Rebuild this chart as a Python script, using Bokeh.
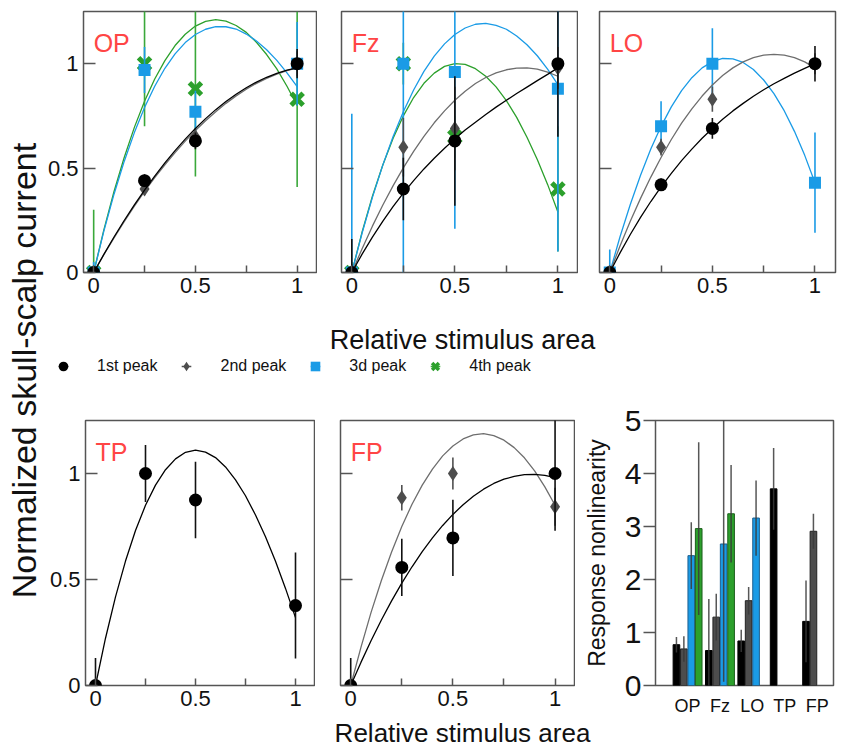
import numpy as np
from bokeh.plotting import figure
from bokeh.layouts import row, column
from bokeh.models import FixedTicker, Label, Legend, LegendItem, Range1d
from bokeh.embed import file_html
from bokeh.resources import INLINE

FONT = "Liberation Sans"

# ---------------- data ----------------
x_pts = [0.0, 0.25, 0.5, 1.0]
x_fit = [0.0, 0.05, 0.1, 0.15, 0.2, 0.25, 0.3, 0.35, 0.4, 0.45, 0.5,
         0.55, 0.6, 0.65, 0.7, 0.75, 0.8, 0.85, 0.9, 0.95, 1.0]

peak_labels = ["1st peak", "2nd peak", "3d peak", "4th peak"]
panel_names = ["OP", "Fz", "LO", "TP", "FP"]

# OP
op_1 = [0.0, 0.44, 0.63, 1.00]
op_1_err = [0.02, 0.03, 0.04, 0.07]
op_2 = [0.0, 0.40, 0.65, 1.00]
op_2_err = [0.02, 0.03, 0.04, 0.06]
op_3 = [0.0, 0.97, 0.77, 1.00]
op_3_err = [0.05, 0.11, 0.10, 0.20]
op_4 = [0.0, 1.00, 0.88, 0.83]
op_4_err = [0.30, 0.30, 0.42, 0.42]
op_1_fit = [0, 0.087, 0.170, 0.249, 0.324, 0.395, 0.462, 0.525, 0.584, 0.639, 0.690,
            0.737, 0.780, 0.819, 0.854, 0.885, 0.912, 0.935, 0.954, 0.969, 0.980]
op_2_fit = [0, 0.085, 0.166, 0.244, 0.318, 0.388, 0.454, 0.516, 0.574, 0.629, 0.680,
            0.727, 0.770, 0.810, 0.846, 0.878, 0.906, 0.930, 0.950, 0.967, 0.980]
op_3_fit = [0, 0.198, 0.375, 0.532, 0.670, 0.790, 0.892, 0.978, 1.047, 1.101, 1.140,
            1.165, 1.177, 1.177, 1.166, 1.142, 1.109, 1.067, 1.016, 0.956, 0.890]
op_4_fit = [0, 0.204, 0.388, 0.551, 0.695, 0.820, 0.927, 1.015, 1.087, 1.141, 1.180,
            1.203, 1.211, 1.204, 1.183, 1.150, 1.102, 1.044, 0.975, 0.892, 0.800]

# Fz
fz_1 = [0.0, 0.40, 0.63, 1.00]
fz_1_err = [0.16, 0.15, 0.31, 0.35]
fz_2 = [0.0, 0.60, 0.69, 0.98]
fz_2_err = [0.04, 0.14, 0.20, 0.10]
fz_3 = [0.0, 1.00, 0.96, 0.88]
fz_3_err = [0.76, 1.00, 0.75, 0.78]
fz_4 = [0.0, 1.00, 0.65, 0.40]
fz_4_err = [0.05, 0.10, 0.10, 0.30]
fz_1_fit = [0, 0.088, 0.169, 0.245, 0.315, 0.380, 0.440, 0.496, 0.547, 0.595, 0.640,
            0.682, 0.720, 0.757, 0.792, 0.825, 0.857, 0.888, 0.919, 0.949, 0.980]
fz_2_fit = [0, 0.114, 0.222, 0.322, 0.415, 0.501, 0.580, 0.652, 0.717, 0.774, 0.825,
            0.868, 0.905, 0.934, 0.956, 0.971, 0.979, 0.980, 0.974, 0.960, 0.940]
fz_3_fit = [0, 0.189, 0.360, 0.513, 0.650, 0.770, 0.874, 0.963, 1.036, 1.095, 1.140,
            1.171, 1.189, 1.193, 1.184, 1.165, 1.133, 1.091, 1.038, 0.974, 0.900]
fz_4_fit = [0, 0.194, 0.365, 0.514, 0.642, 0.750, 0.838, 0.906, 0.955, 0.987, 1.000,
            0.997, 0.976, 0.940, 0.889, 0.823, 0.743, 0.648, 0.541, 0.422, 0.290]

# LO
lo_1 = [0.0, 0.42, 0.69, 1.00]
lo_1_err = [0.02, 0.03, 0.05, 0.085]
lo_2 = [0.0, 0.60, 0.83, 1.00]
lo_2_err = [0.02, 0.04, 0.06, 0.05]
lo_3 = [0.0, 0.70, 1.00, 0.43]
lo_3_err = [0.11, 0.12, 0.17, 0.24]
lo_1_fit = [0, 0.094, 0.182, 0.264, 0.340, 0.410, 0.475, 0.536, 0.591, 0.643, 0.690,
            0.734, 0.774, 0.810, 0.844, 0.875, 0.904, 0.930, 0.955, 0.978, 1.000]
lo_2_fit = [0, 0.127, 0.245, 0.355, 0.457, 0.551, 0.637, 0.715, 0.784, 0.845, 0.898,
            0.943, 0.980, 1.009, 1.029, 1.041, 1.045, 1.041, 1.029, 1.009, 0.980]
lo_3_fit = [0, 0.171, 0.326, 0.466, 0.591, 0.700, 0.793, 0.871, 0.933, 0.980, 1.010,
            1.025, 1.023, 1.006, 0.972, 0.922, 0.857, 0.775, 0.676, 0.561, 0.430]

# TP
tp_1 = [0.0, 1.00, 0.875, 0.377]
tp_1_err = [0.13, 0.135, 0.18, 0.25]
tp_1_fit = [0, 0.223, 0.418, 0.587, 0.731, 0.850, 0.945, 1.018, 1.069, 1.100, 1.110,
            1.101, 1.075, 1.031, 0.970, 0.895, 0.804, 0.702, 0.586, 0.458, 0.320]

# FP
fp_1 = [0.0, 0.557, 0.696, 1.00]
fp_1_err = [0.13, 0.135, 0.18, 0.27]
fp_2 = [0.0, 0.886, 1.00, 0.843]
fp_2_err = [0.02, 0.06, 0.075, 0.09]
fp_1_fit = [0, 0.109, 0.212, 0.309, 0.399, 0.483, 0.560, 0.632, 0.696, 0.755, 0.807,
            0.853, 0.893, 0.926, 0.953, 0.973, 0.986, 0.995, 0.996, 0.991, 0.980]
fp_2_fit = [0, 0.180, 0.346, 0.495, 0.630, 0.750, 0.855, 0.945, 1.021, 1.083, 1.130,
            1.163, 1.182, 1.188, 1.179, 1.157, 1.122, 1.074, 1.012, 0.937, 0.850]

# Response nonlinearity (bars), per region in panel_names order
nl_1 = [0.77, 0.66, 0.84, 3.71, 1.21]
nl_1_err = [0.145, 0.97, 0.21, 0.77, 0.77]
nl_2 = [0.69, 1.29, 1.60, np.nan, 2.91]
nl_2_err = [0.24, 0.44, 0.26, np.nan, 0.33]
nl_3 = [2.45, 2.67, 3.16, np.nan, np.nan]
nl_3_err = [0.63, 2.60, 0.71, np.nan, np.nan]
nl_4 = [2.96, 3.24, np.nan, np.nan, np.nan]
nl_4_err = [1.63, 0.92, np.nan, np.nan, np.nan]

# ---------------- styles ----------------
STYLE = {
    1: dict(marker="circle", size=13, fill="#000000", curve="#000000", err="#111111"),
    2: dict(marker="diamond", size=15, fill="#4d4d4d", curve="#6e6e6e", err="#505050"),
    3: dict(marker="square", size=12, fill="#1a9be6", curve="#1a9be6", err="#1a9be6"),
    4: dict(marker="x", size=17, fill="#2ca02c", curve="#2ca02c", err="#3aa83a"),
}
BAR_LINE = {1: "#000000", 2: "#222222", 3: "#1d5f8f", 4: "#1b5e1b"}
RED = "#ff4545"
FRAME = "#555555"
TXT = "#111111"


def style_axes_line(p, ylabels):
    p.grid.visible = False
    p.outline_line_color = FRAME
    p.outline_line_width = 1.5
    xa = p.xaxis[0]
    xa.ticker = FixedTicker(ticks=[0, 0.5, 1], minor_ticks=[0.25, 0.75])
    xa.axis_line_color = None
    xa.major_tick_in = 7
    xa.major_tick_out = 0
    xa.minor_tick_in = 7
    xa.minor_tick_out = 0
    xa.major_tick_line_color = FRAME
    xa.minor_tick_line_color = FRAME
    xa.major_tick_line_width = 1.5
    xa.minor_tick_line_width = 1.5
    xa.major_label_text_font = FONT
    xa.major_label_text_font_size = "22px"
    xa.major_label_standoff = 5
    xa.major_label_text_color = TXT
    ya = p.yaxis[0]
    ya.ticker = FixedTicker(ticks=[0, 0.5, 1])
    ya.axis_line_color = None
    ya.major_tick_in = 12
    ya.major_tick_out = 0
    ya.minor_tick_line_color = None
    ya.major_tick_line_color = FRAME
    ya.major_tick_line_width = 1.5
    ya.major_label_text_font = FONT
    ya.major_label_text_font_size = "22px"
    ya.major_label_standoff = 5
    ya.major_label_text_color = TXT
    if not ylabels:
        ya.major_label_overrides = {0: "", 0.5: "", 1: ""}


def line_panel(name, data, fw, fh, bl, br, bt, bb, ylabels=True):
    p = figure(frame_width=fw, frame_height=fh,
               min_border_left=bl, min_border_right=br,
               min_border_top=bt, min_border_bottom=bb,
               x_range=Range1d(-0.05, 1.10), y_range=Range1d(0, 1.25),
               output_backend="svg", toolbar_location=None)
    for k in (4, 3, 2, 1):
        if k not in data:
            continue
        ys, errs, fit = data[k]
        st = STYLE[k]
        p.line(x_fit, fit, line_color=st["curve"], line_width=1.3)
        lo = [y - e for y, e in zip(ys, errs)]
        hi = [y + e for y, e in zip(ys, errs)]
        p.segment(x0=x_pts, y0=lo, x1=x_pts, y1=hi,
                  line_color=st["err"], line_width=1.6)
        if st["marker"] == "x":
            p.scatter(x_pts, ys, marker="x", size=st["size"],
                      line_color=st["fill"], line_width=5)
        else:
            p.scatter(x_pts, ys, marker=st["marker"], size=st["size"],
                      fill_color=st["fill"], line_color=None)
    style_axes_line(p, ylabels)
    p.add_layout(Label(x=0, y=1.10, text=name, text_color=RED,
                       text_font=FONT, text_font_size="25px",
                       text_align="left", text_baseline="alphabetic"))
    return p


# ---------------- layout numbers (px) ----------------
LEFT_W = 44
TOTAL_W = 807
TOP_FH = 261
BOT_FH = 265
TOTAL_H = 748

p_op = line_panel(panel_names[0], {1: (op_1, op_1_err, op_1_fit), 2: (op_2, op_2_err, op_2_fit),
                                   3: (op_3, op_3_err, op_3_fit), 4: (op_4, op_4_err, op_4_fit)},
                  234, TOP_FH, 37, 0, 11, 34, ylabels=True)
p_fz = line_panel(panel_names[1], {1: (fz_1, fz_1_err, fz_1_fit), 2: (fz_2, fz_2_err, fz_2_fit),
                                   3: (fz_3, fz_3_err, fz_3_fit), 4: (fz_4, fz_4_err, fz_4_fit)},
                  237, TOP_FH, 24, 0, 11, 34, ylabels=False)
p_lo = line_panel(panel_names[2], {1: (lo_1, lo_1_err, lo_1_fit), 2: (lo_2, lo_2_err, lo_2_fit),
                                   3: (lo_3, lo_3_err, lo_3_fit)},
                  236, TOP_FH, 21, 18, 11, 34, ylabels=False)

p_tp = line_panel(panel_names[3], {1: (tp_1, tp_1_err, tp_1_fit)},
                  230, BOT_FH, 41, 0, 18, 34, ylabels=True)
p_fp = line_panel(panel_names[4], {1: (fp_1, fp_1_err, fp_1_fit), 2: (fp_2, fp_2_err, fp_2_fit)},
                  235, BOT_FH, 25, 0, 18, 34, ylabels=False)

# ---------------- bar panel ----------------
pb = figure(frame_width=178, frame_height=BOT_FH,
            min_border_left=80, min_border_right=18, min_border_top=18, min_border_bottom=34,
            x_range=Range1d(-0.99, 4.505), y_range=Range1d(0, 5),
            output_backend="svg", toolbar_location=None)
pb.grid.visible = False
pb.outline_line_color = FRAME
pb.outline_line_width = 1.5
slot = 0.229
bar_sets = [(1, nl_1, nl_1_err), (2, nl_2, nl_2_err), (3, nl_3, nl_3_err), (4, nl_4, nl_4_err)]
for k, vals, errs in bar_sets:
    v = np.array(vals, dtype=float)
    xs = np.arange(len(panel_names)) + (k - 2.5) * slot
    m = ~np.isnan(v)
    pb.vbar(x=xs[m], top=v[m], bottom=0, width=0.205,
            fill_color=STYLE[k]["fill"], line_color=BAR_LINE[k], line_width=1)
for k, vals, errs in bar_sets:
    v = np.array(vals, dtype=float)
    e = np.array(errs, dtype=float)
    xs = np.arange(len(panel_names)) + (k - 2.5) * slot
    m = ~np.isnan(v)
    pb.segment(x0=xs[m], y0=(v - e)[m], x1=xs[m], y1=(v + e)[m],
               line_color="#3a3a3a", line_width=1.5, line_alpha=0.85)
xb = pb.xaxis[0]
xb.ticker = FixedTicker(ticks=list(range(len(panel_names))))
xb.major_label_overrides = {i: n for i, n in enumerate(panel_names)}
xb.axis_line_color = None
xb.major_tick_line_color = None
xb.minor_tick_line_color = None
xb.major_label_text_font = FONT
xb.major_label_text_font_size = "18px"
xb.major_label_standoff = 4
xb.major_label_text_color = TXT
yb = pb.yaxis[0]
yb.ticker = FixedTicker(ticks=[0, 1, 2, 3, 4, 5])
yb.axis_line_color = None
yb.major_tick_out = 12
yb.major_tick_in = 0
yb.major_tick_line_color = FRAME
yb.major_tick_line_width = 1.5
yb.minor_tick_line_color = None
yb.major_label_text_font = FONT
yb.major_label_text_font_size = "30px"
yb.major_label_standoff = 2
yb.major_label_text_color = TXT
yb.axis_label = "Response nonlinearity"
yb.axis_label_text_font = FONT
yb.axis_label_text_font_size = "23px"
yb.axis_label_text_font_style = "normal"
yb.axis_label_standoff = 12
yb.axis_label_text_color = TXT

# ---------------- middle strip: x label + legend ----------------
MID_H = 96
pm = figure(frame_width=TOTAL_W, frame_height=MID_H, min_border=0,
            x_range=Range1d(0, TOTAL_W), y_range=Range1d(0, MID_H),
            x_axis_type=None, y_axis_type=None,
            output_backend="svg", toolbar_location=None)
pm.outline_line_color = None
pm.add_layout(Label(x=418, y=63, text="Relative stimulus area", text_font=FONT,
                    text_font_size="27px", text_align="center",
                    text_baseline="alphabetic", text_color=TXT))
items = []
for k in (1, 2, 3, 4):
    st = STYLE[k]
    r_err = pm.scatter([np.nan], [np.nan], marker="dash", angle=np.pi / 2, size=10,
                       line_color=st["err"], line_width=1.5)
    if st["marker"] == "x":
        r_m = pm.scatter([np.nan], [np.nan], marker="x", size=10,
                         line_color=st["fill"], line_width=3.5)
    else:
        r_m = pm.scatter([np.nan], [np.nan], marker=st["marker"], size=10,
                         fill_color=st["fill"], line_color=None)
    items.append(LegendItem(label=peak_labels[k - 1], renderers=[r_err, r_m]))
leg = Legend(items=items, orientation="horizontal", location=(7, 24),
             padding=0, margin=0, spacing=17, glyph_width=24, glyph_height=24,
             label_height=24, label_standoff=22,
             label_text_font=FONT, label_text_font_size="16px",
             label_text_color=TXT,
             border_line_color=None, background_fill_alpha=0)
pm.add_layout(leg)

# ---------------- bottom strip: x label ----------------
BL_H = TOTAL_H - (11 + TOP_FH + 34) - MID_H - (18 + BOT_FH + 34)
pbl = figure(frame_width=TOTAL_W, frame_height=BL_H, min_border=0,
             x_range=Range1d(0, TOTAL_W), y_range=Range1d(0, BL_H),
             x_axis_type=None, y_axis_type=None,
             output_backend="svg", toolbar_location=None)
pbl.outline_line_color = None
pbl.add_layout(Label(x=418, y=0.5, text="Relative stimulus area", text_font=FONT,
                     text_font_size="26px", text_align="center",
                     text_baseline="bottom", text_color=TXT))

# ---------------- left strip: y label ----------------
pl = figure(frame_width=LEFT_W, frame_height=TOTAL_H, min_border=0,
            x_range=Range1d(0, LEFT_W), y_range=Range1d(0, TOTAL_H),
            x_axis_type=None, y_axis_type=None,
            output_backend="svg", toolbar_location=None)
pl.outline_line_color = None
pl.add_layout(Label(x=23, y=378, text="Normalized skull-scalp current", angle=np.pi / 2,
                    text_font=FONT, text_font_size="34px", text_align="center",
                    text_baseline="middle", text_color=TXT))

layout = row(pl, column(row(p_op, p_fz, p_lo), pm, row(p_tp, p_fp, pb), pbl))

open("out.html", "w").write(file_html(layout, INLINE))
